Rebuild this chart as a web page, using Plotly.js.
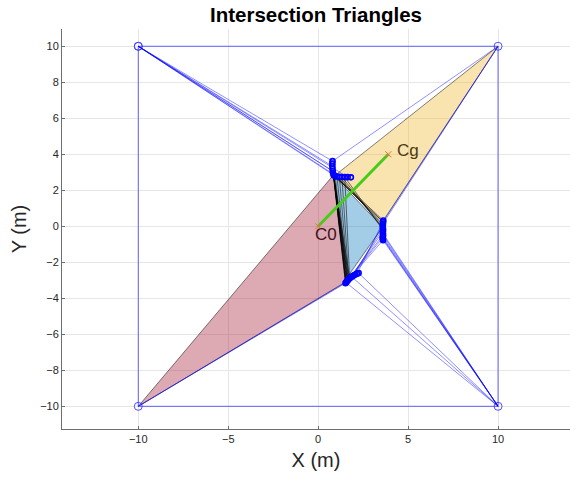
<!DOCTYPE html>
<html>
<head>
<meta charset="utf-8">
<script src="https://cdn.plot.ly/plotly-3.0.1.min.js"></script>
<style>html,body{margin:0;padding:0;background:#fff;}#chart{width:570px;height:477px;}</style>
</head>
<body>
<div id="chart"></div>
<script>
// Outer square corners (anchors)
const cornerX = [-10, 10, 10, -10];
const cornerY = [10, 10, -10, -10];

// Iterated intersection points (one per iteration)
const p1X = [0.80, 0.79, 0.79, 0.80, 0.81, 0.83, 0.86, 0.95, 1.05, 1.18, 1.32, 1.48, 1.64, 1.82];
const p1Y = [3.62, 3.48, 3.34, 3.20, 3.06, 2.94, 2.84, 2.78, 2.76, 2.75, 2.74, 2.73, 2.73, 2.72];
const p2X = [3.62, 3.61, 3.60, 3.60, 3.59, 3.60, 3.61, 3.60, 3.60, 3.61, 3.60, 3.59, 3.60, 3.61];
const p2Y = [0.32, 0.24, 0.15, 0.06, -0.03, -0.12, -0.21, -0.30, -0.39, -0.48, -0.56, -0.63, -0.70, -0.77];
const p3X = [2.25, 2.16, 2.07, 1.99, 1.92, 1.86, 1.80, 1.75, 1.70, 1.66, 1.62, 1.58, 1.55, 1.52];
const p3Y = [-2.60, -2.64, -2.68, -2.72, -2.76, -2.80, -2.84, -2.88, -2.93, -2.98, -3.03, -3.08, -3.12, -3.16];

// Final triangles
const redTriX = [-10, 0.85, 1.55];
const redTriY = [-10, 2.85, -3.10];
const yellowTriX = [10, 0.90, 3.60];
const yellowTriY = [10, 2.80, 0.25];
const blueTriX = [0.88, 3.58, 1.60];
const blueTriY = [2.80, -0.05, -2.85];

// Centroids
const c0 = [0, 0];
const cg = [3.9, 4.0];
const labels = ['C0', 'Cg'];

function seg(ax, ay, bx, by, X, Y) { X.push(ax, bx, null); Y.push(ay, by, null); }

const blueX = [], blueY = [];
const blackX = [], blackY = [];
const n = p1X.length;
for (let i = 0; i < n; i++) {
  if (i % 2 === 0) seg(cornerX[0], cornerY[0], p1X[i], p1Y[i], blueX, blueY);
  if (p2Y[i] < -0.35) seg(cornerX[2], cornerY[2], p2X[i], p2Y[i], blueX, blueY);
  if (i % 2 === 1) seg(p2X[i], p2Y[i], p3X[i], p3Y[i], blueX, blueY);
}
// triangle edges of the later iterations (black bundles)
for (let k = 0; k < 7; k++) {
  const a = 5 + Math.min(k, 6);      // P1 near the corner of the L
  const b = k;                        // P2 upper part
  const c = n - 1 - k;                // P3 lower part
  seg(p1X[a], p1Y[a], p2X[b], p2Y[b], blackX, blackY);
  seg(p1X[a], p1Y[a], p3X[c], p3Y[c], blackX, blackY);
  seg(p1X[6], p1Y[6], p3X[c], p3Y[c], blackX, blackY);
}
// a few extra probe lines
seg(cornerX[1], cornerY[1], p1X[0], p1Y[0], blueX, blueY);
seg(cornerX[1], cornerY[1], p2X[0], p2Y[0], blueX, blueY);
seg(cornerX[1], cornerY[1], p2X[2], p2Y[2], blueX, blueY);
seg(cornerX[2], cornerY[2], p3X[0], p3Y[0], blueX, blueY);
seg(cornerX[2], cornerY[2], p3X[5], p3Y[5], blueX, blueY);
seg(cornerX[2], cornerY[2], p3X[12], p3Y[12], blueX, blueY);
seg(cornerX[3], cornerY[3], p3X[10], p3Y[10], blueX, blueY);
seg(cornerX[3], cornerY[3], p3X[13], p3Y[13], blueX, blueY);

const sqX = cornerX.concat([cornerX[0]]);
const sqY = cornerY.concat([cornerY[0]]);

function tri(xs, ys, color) {
  return {x: xs.concat([xs[0]]), y: ys.concat([ys[0]]), type: 'scatter', mode: 'lines',
    fill: 'toself', fillcolor: color, line: {color: 'rgba(0,0,0,0.7)', width: 0.7},
    hoverinfo: 'skip', showlegend: false};
}

const font = 'Liberation Sans, Arial, sans-serif';
const traces = [
  tri(redTriX, redTriY, 'rgba(162,20,47,0.36)'),
  tri(yellowTriX, yellowTriY, 'rgba(237,177,32,0.36)'),
  tri(blueTriX, blueTriY, 'rgba(0,114,189,0.36)'),
  {x: sqX, y: sqY, type: 'scatter', mode: 'lines+markers',
   line: {color: 'rgba(60,60,255,0.8)', width: 1},
   marker: {symbol: 'circle-open', size: 8, color: 'rgba(60,60,255,0.9)', line: {width: 1}}, showlegend: false},
  {x: blueX, y: blueY, type: 'scatter', mode: 'lines', connectgaps: false,
   line: {color: 'rgba(0,0,255,0.55)', width: 0.8}, showlegend: false},
  {x: blackX, y: blackY, type: 'scatter', mode: 'lines', connectgaps: false,
   line: {color: 'rgba(0,0,0,0.6)', width: 0.9}, showlegend: false},
  {x: p1X.concat(p2X, p3X), y: p1Y.concat(p2Y, p3Y), type: 'scatter', mode: 'markers',
   marker: {symbol: 'circle-open', size: 5, color: 'rgb(0,0,255)', line: {width: 1.6}}, showlegend: false},
  {x: [c0[0], cg[0]], y: [c0[1], cg[1]], type: 'scatter', mode: 'lines+markers',
   line: {color: 'rgb(70,205,25)', width: 3},
   marker: {symbol: 'x-thin-open', size: 6, color: 'rgb(235,110,60)', line: {width: 1, color: 'rgb(235,110,60)'}},
   showlegend: false}
];

const axisCommon = {
  showgrid: true, gridcolor: '#e6e6e6', gridwidth: 1, zeroline: false,
  showline: true, linecolor: '#6e6e6e', linewidth: 1, mirror: false,
  ticks: 'inside', ticklen: 3, tickcolor: '#6e6e6e',
  tickfont: {family: font, size: 11, color: '#262626'}
};

const layout = {
  width: 570, height: 477,
  margin: {l: 62, r: 0, t: 29, b: 48},
  paper_bgcolor: '#fff', plot_bgcolor: '#fff',
  showlegend: false,
  title: {text: '<b>Intersection Triangles</b>', x: 0.5, xref: 'paper', y: 1 - 15 / 477, yanchor: 'middle',
          font: {family: font, size: 20.5, color: '#000'}},
  xaxis: Object.assign({}, axisCommon, {range: [-14.24, 14.0], tickvals: [-10, -5, 0, 5, 10],
    title: {text: 'X (m)', standoff: 8, font: {family: font, size: 20, color: '#262626'}}}),
  yaxis: Object.assign({}, axisCommon, {range: [-11.26, 10.96], tickvals: [-10, -8, -6, -4, -2, 0, 2, 4, 6, 8, 10],
    title: {text: 'Y (m)', standoff: 8, font: {family: font, size: 20, color: '#262626'}}}),
  annotations: [
    {x: c0[0] - 0.3, y: c0[1] - 0.45, text: labels[0], showarrow: false, xanchor: 'left', yanchor: 'middle',
     font: {family: font, size: 17, color: '#3d1219'}},
    {x: cg[0] + 0.35, y: cg[1] + 0.2, text: labels[1], showarrow: false, xanchor: 'left', yanchor: 'middle',
     font: {family: font, size: 17, color: '#4a3a12'}}
  ]
};

Plotly.newPlot('chart', traces, layout, {displayModeBar: false, staticPlot: true});
</script>
</body>
</html>
